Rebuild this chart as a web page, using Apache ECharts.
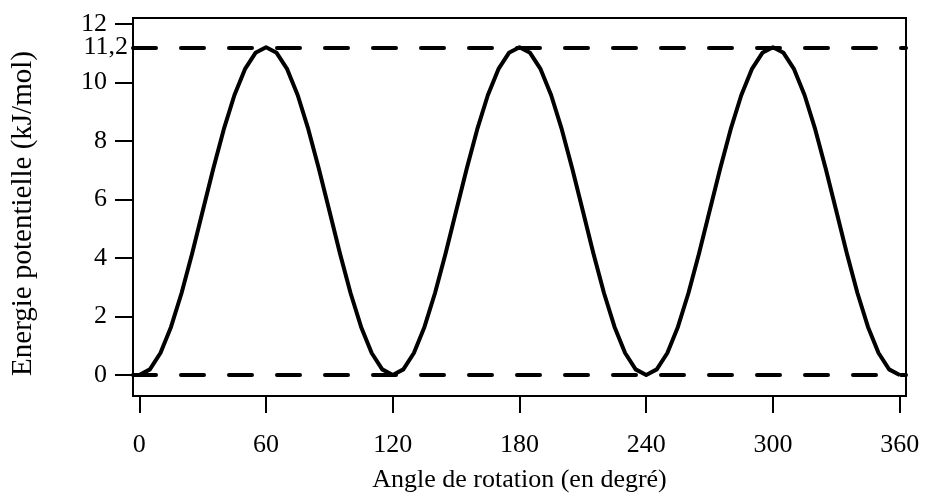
<!DOCTYPE html>
<html>
<head>
<meta charset="utf-8">
<script src="https://cdn.jsdelivr.net/npm/echarts@6/dist/echarts.min.js"></script>
<style>
html,body{margin:0;padding:0;background:#fff;}
#chart{width:925px;height:494px;}
</style>
</head>
<body>
<div id="chart"></div>
<script>
const angles = [0,5,10,15,20,25,30,35,40,45,50,55,60,65,70,75,80,85,90,95,100,105,110,115,
  120,125,130,135,140,145,150,155,160,165,170,175,180,185,190,195,200,205,210,215,220,225,230,235,
  240,245,250,255,260,265,270,275,280,285,290,295,300,305,310,315,320,325,330,335,340,345,350,355,360];
const energy = [0,0.19,0.75,1.64,2.80,4.15,5.60,7.05,8.40,9.56,10.45,11.01,11.20,11.01,10.45,9.56,8.40,7.05,5.60,4.15,2.80,1.64,0.75,0.19,
  0,0.19,0.75,1.64,2.80,4.15,5.60,7.05,8.40,9.56,10.45,11.01,11.20,11.01,10.45,9.56,8.40,7.05,5.60,4.15,2.80,1.64,0.75,0.19,
  0,0.19,0.75,1.64,2.80,4.15,5.60,7.05,8.40,9.56,10.45,11.01,11.20,11.01,10.45,9.56,8.40,7.05,5.60,4.15,2.80,1.64,0.75,0.19,0];
const refLevels = [0, 11.2];
const xTicks = [0,60,120,180,240,300,360];
const yTicks = [0,2,4,6,8,10,12];
const yExtraTicks = [11.2];
const xTitle = 'Angle de rotation (en degré)';
const yTitle = 'Energie potentielle (kJ/mol)';

const font = 'Liberation Serif, Times New Roman, serif';
const fmt = function(v){return String(v).replace('.',',');};
const chart = echarts.init(document.getElementById('chart'), null, {renderer:'canvas'});
chart.setOption({
  backgroundColor:'#fff',
  animation:false,
  grid:{left:133, right:19, top:18, bottom:98, containLabel:false, outerBoundsMode:'none',
    show:true, borderColor:'#000', borderWidth:2, backgroundColor:'transparent'},
  xAxis:{
    type:'value', min:-3, max:363,
    name:xTitle, nameLocation:'middle', nameGap:71,
    nameTextStyle:{fontFamily:font, fontSize:26, color:'#000'},
    axisLine:{show:true, onZero:false, lineStyle:{color:'#000', width:2}},
    axisTick:{show:true, length:17, lineStyle:{color:'#000', width:2}, customValues:xTicks},
    axisLabel:{fontFamily:font, fontSize:26, color:'#000', margin:36, customValues:xTicks, hideOverlap:false},
    splitLine:{show:false}
  },
  yAxis:[{
    type:'value', min:-0.72, max:12.2, position:'left',
    name:yTitle, nameLocation:'middle', nameGap:95,
    nameTextStyle:{fontFamily:font, fontSize:29, color:'#000', padding:[0,13,0,0]},
    axisLine:{show:true, onZero:false, lineStyle:{color:'#000', width:2}},
    axisTick:{show:true, length:18, lineStyle:{color:'#000', width:2}, customValues:yTicks},
    axisLabel:{fontFamily:font, fontSize:26, color:'#000', margin:26, customValues:yTicks, hideOverlap:false, formatter:fmt},
    splitLine:{show:false}
  },{
    type:'value', min:-0.72, max:12.2, position:'left', offset:0,
    axisLine:{show:false, onZero:false},
    axisTick:{show:false},
    axisLabel:{fontFamily:font, fontSize:26, color:'#000', margin:5, customValues:yExtraTicks, hideOverlap:false, formatter:fmt},
    splitLine:{show:false}
  }],
  series:[
    {
      type:'line',
      data:angles.map((a,i)=>[a,energy[i]]),
      showSymbol:false, symbol:'none',
      lineStyle:{color:'#000', width:4, join:'round'},
      z:3,
      markLine:{
        silent:true, symbol:['none','none'], label:{show:false},
        lineStyle:{color:'#000', width:4, type:[23,25], cap:'round'},
        data:refLevels.map(v=>({yAxis:v}))
      }
    }
  ]
});
</script>
</body>
</html>
